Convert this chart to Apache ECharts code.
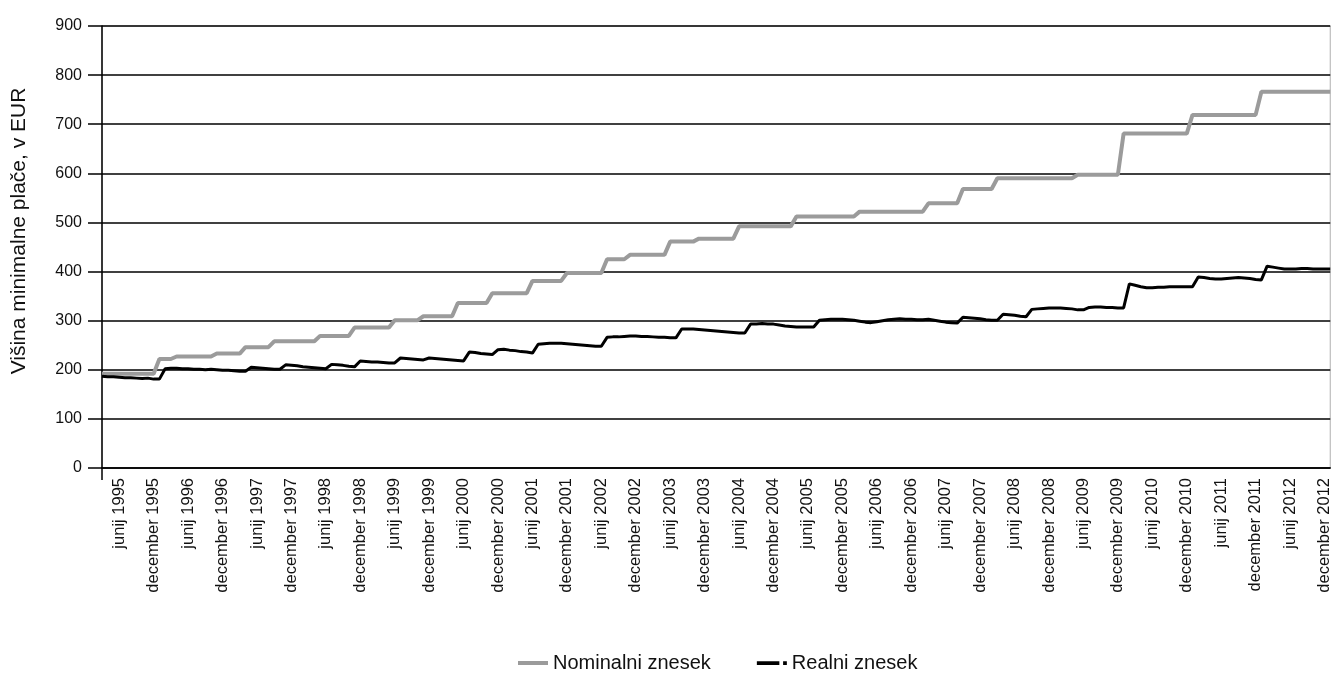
<!DOCTYPE html>
<html>
<head>
<meta charset="utf-8">
<title>Minimalna plača</title>
<script src="https://cdn.jsdelivr.net/npm/echarts@6/dist/echarts.min.js"></script>
<style>
  html, body { margin: 0; padding: 0; background: #ffffff; }
  #chart { width: 1333px; height: 673px; }
</style>
</head>
<body>
<div id="chart"></div>
<script>
// Monthly series, March 1995 – January 2013 (EUR)
const monthNames = ['januar', 'februar', 'marec', 'april', 'maj', 'junij',
                    'julij', 'avgust', 'september', 'oktober', 'november', 'december'];
const firstYear = 1995;
const firstMonth = 2; // marec

// Nominal minimum wage, one row per calendar year
const nominal = [
  192, 192, 192, 192, 192, 192, 192, 192, 192, 192,                  // 1995 (mar–dec)
  222, 222, 222, 227, 227, 227, 227, 227, 227, 227, 233, 233,        // 1996
  233, 233, 233, 246, 246, 246, 246, 246, 258, 258, 258, 258,        // 1997
  258, 258, 258, 258, 269, 269, 269, 269, 269, 269, 286, 286,        // 1998
  286, 286, 286, 286, 286, 301, 301, 301, 301, 301, 309, 309,        // 1999
  309, 309, 309, 309, 336, 336, 336, 336, 336, 336, 356, 356,        // 2000
  356, 356, 356, 356, 356, 381, 381, 381, 381, 381, 381, 397,        // 2001
  397, 397, 397, 397, 397, 397, 425, 425, 425, 425, 434, 434,        // 2002
  434, 434, 434, 434, 434, 461, 461, 461, 461, 461, 467, 467,        // 2003
  467, 467, 467, 467, 467, 492, 492, 492, 492, 492, 492, 492,        // 2004
  492, 492, 492, 512, 512, 512, 512, 512, 512, 512, 512, 512,        // 2005
  512, 512, 522, 522, 522, 522, 522, 522, 522, 522, 522, 522,        // 2006
  522, 522, 539, 539, 539, 539, 539, 539, 568, 568, 568, 568,        // 2007
  568, 568, 590, 590, 590, 590, 590, 590, 590, 590, 590, 590,        // 2008
  590, 590, 590, 590, 597, 597, 597, 597, 597, 597, 597, 597,        // 2009
  681, 681, 681, 681, 681, 681, 681, 681, 681, 681, 681, 681,        // 2010
  719, 719, 719, 719, 719, 719, 719, 719, 719, 719, 719, 719,        // 2011
  766, 766, 766, 766, 766, 766, 766, 766, 766, 766, 766, 766,        // 2012
  766                                                                // 2013 (jan)
];

// Real minimum wage (deflated), one row per calendar year
const real = [
  187, 186, 186, 185, 184, 184, 183, 182, 183, 181,                  // 1995 (mar–dec)
  181, 202, 203, 203, 202, 202, 201, 201, 200, 201, 200, 199,        // 1996
  199, 198, 197, 197, 205, 204, 203, 202, 201, 201, 210, 209,        // 1997
  208, 206, 205, 204, 203, 202, 211, 210, 209, 207, 206, 218,        // 1998
  217, 216, 216, 215, 214, 214, 224, 223, 222, 221, 220, 224,        // 1999
  223, 222, 221, 220, 219, 218, 236, 235, 233, 232, 231, 241,        // 2000
  242, 240, 239, 237, 236, 234, 252, 253, 254, 254, 254, 253,        // 2001
  252, 251, 250, 249, 248, 248, 266, 267, 267, 268, 269, 269,        // 2002
  268, 268, 267, 266, 266, 265, 265, 283, 283, 283, 282, 281,        // 2003
  280, 279, 278, 277, 276, 275, 275, 293, 293, 294, 293, 293,        // 2004
  291, 289, 288, 287, 287, 287, 287, 301, 302, 303, 303, 303,        // 2005
  302, 301, 299, 297, 296, 298, 300, 302, 303, 304, 303, 303,        // 2006
  302, 302, 303, 301, 299, 297, 296, 295, 307, 306, 305, 304,        // 2007
  302, 301, 301, 313, 312, 311, 309, 308, 323, 324, 325, 326,        // 2008
  326, 326, 325, 324, 322, 322, 327, 328, 328, 327, 327, 326,        // 2009
  326, 375, 372, 369, 367, 367, 368, 368, 369, 369, 369, 369,        // 2010
  369, 389, 388, 386, 385, 385, 386, 387, 388, 387, 386, 384,        // 2011
  383, 411, 409, 407, 405, 405, 405, 406, 406, 405, 405, 405,        // 2012
  405                                                                // 2013 (jan)
];

const seriesNames = ['Nominalni znesek', 'Realni znesek'];
const yAxisTitle = 'Višina minimalne plače, v EUR';

// Category labels "mesec leto"
const categories = nominal.map(function (_, i) {
  const m = firstMonth + i;
  return monthNames[m % 12] + ' ' + (firstYear + Math.floor(m / 12));
});

// Only June and December are labelled along the time axis
function halfYearLabel(index, value) {
  return value.indexOf('junij') === 0 || value.indexOf('december') === 0;
}

const FONT = "'Liberation Sans', Arial, sans-serif";

const chart = echarts.init(document.getElementById('chart'), null, { renderer: 'canvas' });

chart.setOption({
  animation: false,
  backgroundColor: '#ffffff',
  textStyle: { fontFamily: FONT },
  grid: {
    left: 102, top: 26, width: 1229, height: 442,
    show: true, borderColor: '#b0b0b0', borderWidth: 1, backgroundColor: 'transparent'
  },
  legend: {
    top: 648,
    left: 513,
    itemWidth: 30,
    itemHeight: 4,
    itemGap: 46,
    textStyle: { fontSize: 20, color: '#111', fontFamily: FONT },
    data: [
      { name: seriesNames[0], icon: 'rect' },
      { name: seriesNames[1], icon: 'path://M0,0H24V4H0Z M28,0H32V4H28Z' }
    ]
  },
  xAxis: {
    type: 'category',
    data: categories,
    boundaryGap: false,
    axisLine: { lineStyle: { color: '#000', width: 1.5 } },
    axisTick: {
      show: true, length: 12, interval: function (i) { return i === 0; },
      lineStyle: { color: '#000', width: 1.5 }
    },
    axisLabel: {
      interval: halfYearLabel,
      rotate: 90,
      margin: 10,
      fontSize: 16.5,
      color: '#111',
      fontFamily: FONT
    },
    splitLine: { show: false }
  },
  yAxis: {
    type: 'value',
    min: 0, max: 900, interval: 100,
    name: yAxisTitle,
    nameLocation: 'middle',
    nameRotate: 90,
    nameGap: 72,
    nameTextStyle: { fontSize: 21, color: '#111', fontFamily: FONT, padding: [0, 0, 0, 32] },
    axisLine: { show: true, lineStyle: { color: '#000', width: 1.5 } },
    axisTick: { show: true, length: 14, lineStyle: { color: '#000', width: 1.5 } },
    axisLabel: { fontSize: 16, color: '#111', margin: 20, fontFamily: FONT },
    splitLine: { show: true, lineStyle: { color: '#000', width: 1.5 } }
  },
  series: [
    {
      name: seriesNames[0], type: 'line', data: nominal,
      symbol: 'none', z: 2,
      lineStyle: { color: '#9b9b9b', width: 4 },
      itemStyle: { color: '#9b9b9b' }
    },
    {
      name: seriesNames[1], type: 'line', data: real,
      symbol: 'none', z: 3,
      lineStyle: { color: '#000000', width: 3 },
      itemStyle: { color: '#000000' }
    }
  ]
});
</script>
</body>
</html>
